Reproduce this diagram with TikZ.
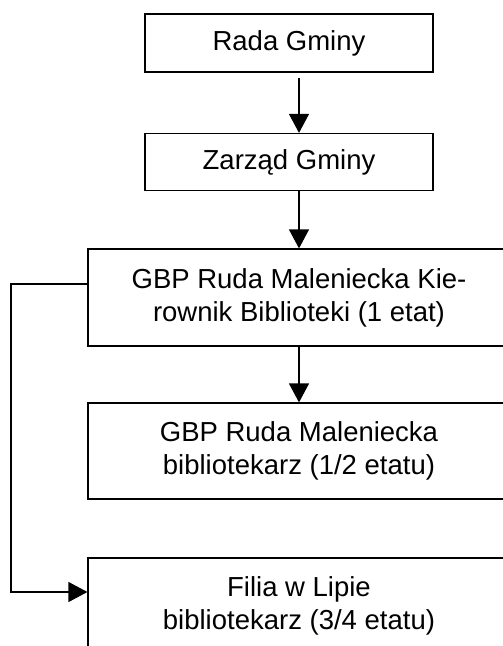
\documentclass[tikz,border=0pt]{standalone}
\usepackage{fontspec}
\setmainfont{Liberation Sans}
\usetikzlibrary{arrows.meta}
\tikzset{
  unit/.style={draw, line width=1.2pt, align=center, font=\fontsize{27.5}{33}\selectfont},
  link/.style={line width=1.2pt, -{Triangle[length=19pt,width=20pt]}}
}
\begin{document}
\begin{tikzpicture}[x=1pt,y=-1pt]
    \clip (0,0) rectangle (503,646);
    \node[unit, minimum width=288, minimum height=58] (rada) at (289,43) {Rada Gminy};
    \node[unit, minimum width=288, minimum height=57] (zarzad) at (289,162) {Zarząd Gminy};
    \node[unit, minimum width=422, minimum height=97] (gbp) at (299,297.5) {GBP Ruda Maleniecka Kie-\\rownik Biblioteki (1 etat)};
    \node[unit, minimum width=422, minimum height=96] (biblio) at (299,451) {GBP Ruda Maleniecka\\bibliotekarz (1/2 etatu)};
    \node[unit, minimum width=422, minimum height=96] (filia) at (299,606) {Filia w Lipie\\bibliotekarz (3/4 etatu)};
    \coordinate (bend) at (11,284);
    % connectors
    \draw[link] ([yshift=-5pt]rada.south -| gbp.north) -- (zarzad.north -| gbp.north);
    \draw[link] (zarzad.south -| gbp.north) -- (gbp.north);
    \draw[link] (gbp.south) -- (biblio.north);
    \draw[link] ([yshift=13.5pt]gbp.west) -- (bend) |- ([yshift=14pt]filia.west);
\end{tikzpicture}
\end{document}
